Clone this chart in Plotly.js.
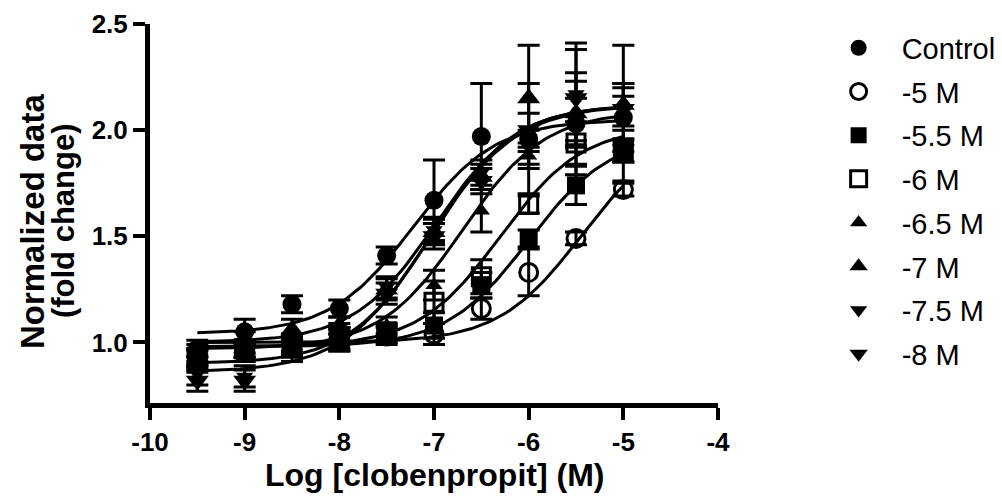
<!DOCTYPE html>
<html>
<head>
<meta charset="utf-8">
<script src="https://cdn.plot.ly/plotly-3.0.1.min.js"></script>
<style>html,body{margin:0;padding:0;background:#fff;}#chart{width:1002px;height:498px;}</style>
</head>
<body>
<div id="chart"></div>
<script>
// ---- data ----
const logConc = [-9.5, -9, -8.5, -8, -7.5, -7, -6.5, -6, -5.5, -5];
const seriesNames = ["Control", "-5 M", "-5.5 M", "-6 M", "-6.5 M", "-7 M", "-7.5 M", "-8 M"];

const control   = [0.97, 1.05, 1.18, 1.16, 1.41, 1.67, 1.97, 1.96, 2.03, 2.06];
const m5        = [0.93, 0.97, 0.99, 1.02, 1.03, 1.04, 1.16, 1.33, 1.49, 1.72];
const m5_5      = [0.90, 0.95, 0.97, 1.00, 1.04, 1.08, 1.27, 1.49, 1.74, 1.89];
const m6        = [0.93, 0.97, 0.98, 1.01, 1.05, 1.19, 1.31, 1.65, 1.94, 1.90];
const m6_5      = [0.92, 0.97, 1.00, 1.03, 1.08, 1.27, 1.62, 1.88, 2.05, 2.08];
const m7        = [0.95, 1.00, 1.06, 1.08, 1.25, 1.52, 1.78, 2.15, 2.08, 2.12];
const m7_5      = [0.85, 0.84, 0.96, 1.03, 1.26, 1.53, 1.80, 1.92, 2.17, 2.06];
const m8        = [0.82, 0.82, 0.99, 1.05, 1.23, 1.50, 1.76, 2.00, 2.15, 2.10];

const controlErr = [0.04, 0.06, 0.04, 0.04, 0.04, 0.19, 0.25, 0.26, 0.24, 0.16];
const m5Err      = [0.04, 0.04, 0.04, 0.05, 0.04, 0.05, 0.05, 0.11, 0.03, 0.03];
const m5_5Err    = [0.04, 0.04, 0.04, 0.04, 0.04, 0.06, 0.06, 0.04, 0.09, 0.04];
const m6Err      = [0.04, 0.04, 0.04, 0.05, 0.04, 0.10, 0.08, 0.04, 0.10, 0.05];
const m6_5Err    = [0.04, 0.04, 0.04, 0.04, 0.04, 0.07, 0.10, 0.06, 0.10, 0.32];
const m7Err      = [0.04, 0.05, 0.05, 0.04, 0.05, 0.06, 0.06, 0.25, 0.15, 0.10];
const m7_5Err    = [0.05, 0.05, 0.05, 0.04, 0.05, 0.06, 0.06, 0.08, 0.24, 0.10];
const m8Err      = [0.05, 0.05, 0.05, 0.04, 0.05, 0.06, 0.06, 0.08, 0.23, 0.10];

// fitted sigmoidal dose-response parameters
const fitBottom  = [1.04, 1.00, 0.98, 0.98, 0.97, 1.00, 0.90, 0.86];
const fitTop     = [2.05, 2.00, 1.98, 2.02, 2.09, 2.12, 2.12, 2.12];
const fitLogEC50 = [-7.22, -5.45, -6.00, -6.30, -6.70, -6.98, -7.02, -7.05];
const fitHill    = [1.0, 1.0, 1.0, 1.0, 1.0, 1.0, 1.0, 0.95];

const xTicks = [-10, -9, -8, -7, -6, -5, -4];
const yTicks = [1.0, 1.5, 2.0, 2.5];
const xTitle = "Log [clobenpropit] (M)";
const yTitleLines = ["Normalized data", "(fold change)"];

// ---- build ----
const values = [control, m5, m5_5, m6, m6_5, m7, m7_5, m8];
const errors = [controlErr, m5Err, m5_5Err, m6Err, m6_5Err, m7Err, m7_5Err, m8Err];
const symbols = ["circle", "circle-open", "square", "square-open", "triangle-up", "triangle-up", "triangle-down", "triangle-down"];
const sizes = [19, 18, 18, 18, 15, 20, 15, 20];

const traces = [];
const curveX = [];
for (let i = 0; i <= 120; i++) curveX.push(logConc[0] + (logConc[logConc.length - 1] - logConc[0]) * i / 120);
for (let s = 0; s < seriesNames.length; s++) {
  const cy = curveX.map(x => fitBottom[s] + (fitTop[s] - fitBottom[s]) / (1 + Math.pow(10, (fitLogEC50[s] - x) * fitHill[s])));
  traces.push({x: curveX, y: cy, mode: 'lines', line: {color: '#000', width: 3}, showlegend: false, hoverinfo: 'skip'});
}
for (let s = 0; s < seriesNames.length; s++) {
  const open = symbols[s].indexOf('open') >= 0;
  traces.push({
    x: logConc, y: values[s], name: seriesNames[s], legendgroup: 'g' + s,
    mode: 'markers', type: 'scatter',
    marker: {symbol: symbols[s], size: sizes[s], color: '#000', line: {color: '#000', width: open ? 3 : 0}},
    error_y: {type: 'data', array: errors[s], visible: true, color: '#000', thickness: 3, width: 11}
  });
}

const fontFam = 'Arial, "Liberation Sans", sans-serif';
const layout = {
  width: 1002, height: 498,
  margin: {l: 150, r: 284, t: 24, b: 95, pad: 0},
  paper_bgcolor: '#fff', plot_bgcolor: '#fff',
  showlegend: true,
  legend: {xref: 'container', yref: 'container', x: 0.814, y: 0.955, xanchor: 'left', yanchor: 'top',
           font: {family: fontFam, size: 29, color: '#000'}, tracegroupgap: 3, itemwidth: 76,
           maxheight: 480, itemclick: false},
  xaxis: {range: [-10, -4], tickvals: xTicks, ticktext: xTicks.map(String), showgrid: false, zeroline: false,
          showline: true, linewidth: 5, linecolor: '#000', ticks: 'outside', ticklen: 12, tickwidth: 4, tickcolor: '#000',
          tickfont: {family: fontFam, size: 26, color: '#000', weight: 'bold'}},
  yaxis: {range: [0.715, 2.5], tickvals: yTicks, ticktext: ['1.0', '1.5', '2.0', '2.5'], showgrid: false, zeroline: false,
          showline: true, linewidth: 5, linecolor: '#000', ticks: 'outside', ticklen: 12, tickwidth: 4, tickcolor: '#000',
          tickfont: {family: fontFam, size: 26, color: '#000', weight: 'bold'}},
  annotations: [
    {xref: 'paper', yref: 'paper', x: 0.5, y: -(475 - 403) / 379, xanchor: 'center', yanchor: 'middle', showarrow: false,
     text: '<b>' + xTitle + '</b>', font: {family: fontFam, size: 32, color: '#000'}},
    {xref: 'paper', yref: 'paper', x: (32 - 150) / 568, y: 0.48, xanchor: 'center', yanchor: 'middle', showarrow: false,
     textangle: -90, text: '<b>' + yTitleLines[0] + '</b>', font: {family: fontFam, size: 33, color: '#000'}},
    {xref: 'paper', yref: 'paper', x: (63 - 150) / 568, y: 0.48, xanchor: 'center', yanchor: 'middle', showarrow: false,
     textangle: -90, text: '<b>' + yTitleLines[1] + '</b>', font: {family: fontFam, size: 31, color: '#000'}}
  ]
};

Plotly.newPlot('chart', traces, layout, {displayModeBar: false, staticPlot: true});
</script>
</body>
</html>
